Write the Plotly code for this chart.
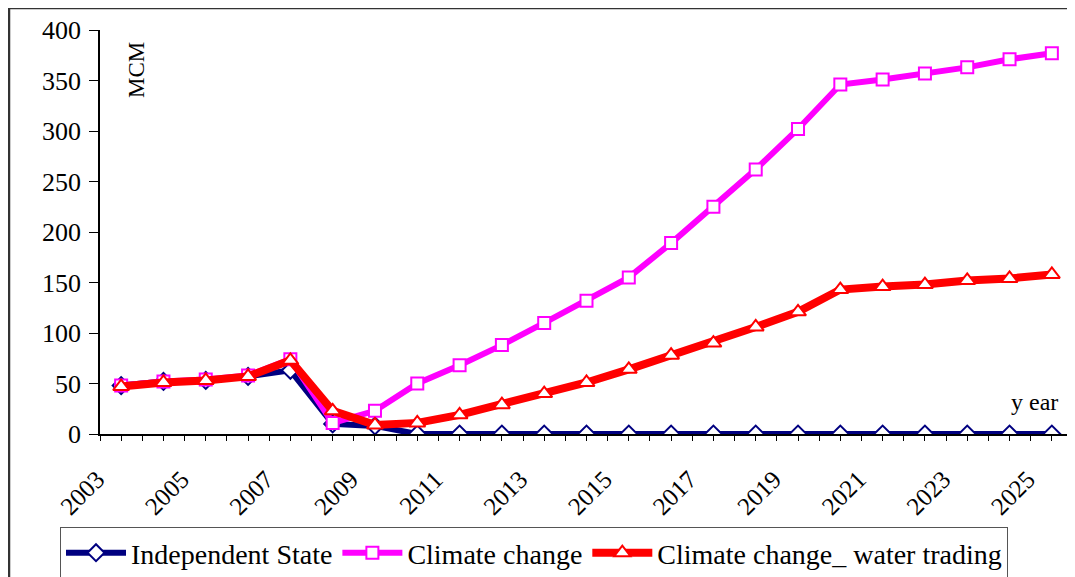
import plotly.graph_objects as go

years = list(range(2003, 2026))
independent_state = [48, 52, 53, 57, 63, 10, 8, 0, 0, 0, 0, 0, 0, 0, 0, 0, 0, 0, 0, 0, 0, 0, 0]
climate_change = [48, 52, 54, 58, 74, 11, 23, 50, 68, 88, 110, 132, 155, 189, 225, 262, 302, 346, 351, 357, 363, 371, 377]
climate_water_trading = [47, 51, 53, 57, 73, 23, 9, 11, 19, 29, 40, 51, 64, 78, 90, 106, 121, 143, 146, 148, 152, 154, 158]
tick_years = [2003, 2005, 2007, 2009, 2011, 2013, 2015, 2017, 2019, 2021, 2023, 2025]
y_ticks = [0, 50, 100, 150, 200, 250, 300, 350, 400]

FONT = "Liberation Serif"

fig = go.Figure()
fig.add_trace(go.Scatter(
    x=years, y=independent_state, name="Independent State", mode="lines+markers",
    line=dict(color="#000080", width=6),
    marker=dict(symbol="diamond", size=13, color="white", line=dict(color="#000080", width=2)),
))
fig.add_trace(go.Scatter(
    x=years, y=climate_change, name="Climate change", mode="lines+markers",
    line=dict(color="#FF00FF", width=6),
    marker=dict(symbol="square", size=12, color="white", line=dict(color="#FF00FF", width=2)),
))
fig.add_trace(go.Scatter(
    x=years, y=climate_water_trading, name="Climate change_ water trading", mode="lines+markers",
    line=dict(color="#FF0000", width=8),
    marker=dict(symbol="triangle-up", size=14, color="white", line=dict(color="#FF0000", width=2)),
))

PW, PH = 973, 404  # plot area size in px
# page body has an 8px margin; figure is shrunk/shifted to compensate

fig.update_layout(
    width=1067, height=569,
    margin=dict(l=92, r=2, t=22, b=143, autoexpand=False),
    paper_bgcolor="white", plot_bgcolor="white",
    font=dict(family=FONT, color="black", size=24),
    showlegend=True,
    legend=dict(
        orientation="h", x=(60 - 100) / PW, xanchor="left", y=(434 - 527) / PH, yanchor="top",
        bordercolor="#555555", borderwidth=1, bgcolor="white",
        font=dict(family=FONT, size=28, color="black"),
        itemwidth=60, tracegroupgap=0,
    ),
    xaxis=dict(
        range=[2002.5, 2025.5], tickmode="array", tickvals=tick_years,
        ticktext=[str(y) for y in tick_years], tickangle=-45,
        ticks="outside", ticklen=5, tickcolor="black", tickwidth=1,
        minor=dict(dtick=0.5, tick0=2002.5, ticks="outside", ticklen=5, tickcolor="black"),
        showline=True, linecolor="black", linewidth=1.5,
        showgrid=False, zeroline=False,
        tickfont=dict(family=FONT, size=25),
        ticklabelshift=-24, ticklabelstandoff=14,
    ),
    yaxis=dict(
        range=[0, 400], tickmode="array", tickvals=y_ticks,
        ticks="outside", ticklen=9, tickcolor="black",
        showline=True, linecolor="black", linewidth=1.5,
        showgrid=False, zeroline=False,
        tickfont=dict(family=FONT, size=26),
        ticklabelstandoff=3,
    ),
    annotations=[
        dict(text="MCM", xref="paper", yref="paper", x=(137 - 100) / PW, y=(434 - 70) / PH,
             showarrow=False, textangle=-90, font=dict(family=FONT, size=23), xanchor="center", yanchor="middle"),
        dict(text="y ear", xref="paper", yref="paper", x=(1034 - 100) / PW, y=(434 - 402) / PH,
             showarrow=False, font=dict(family=FONT, size=24), xanchor="center", yanchor="middle"),
    ],
    shapes=[
        dict(type="rect", xref="paper", yref="paper",
             x0=(9 - 100) / PW, x1=(1090 - 100) / PW,
             y0=(434 - 590) / PH, y1=(434 - 8) / PH,
             line=dict(color="#333333", width=2.5), fillcolor="rgba(0,0,0,0)", layer="below"),
    ],
)

fig.write_html("out.html")
